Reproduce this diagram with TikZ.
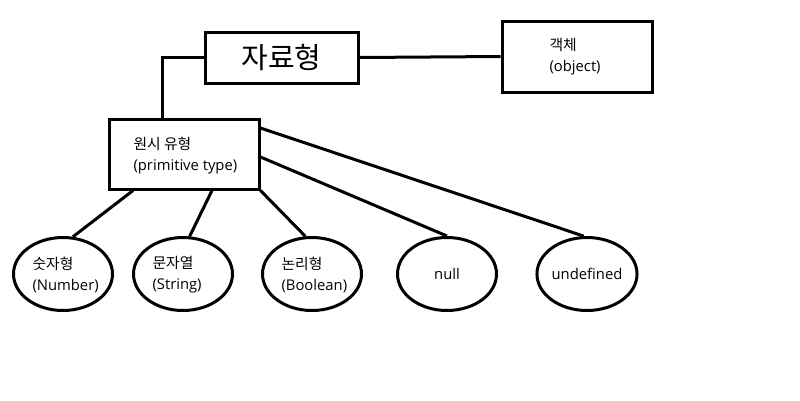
\documentclass[tikz,border=0pt]{standalone}
\usepackage{fontspec}
\setmainfont{Open Sans}
\newfontfamily\kr{Noto Sans CJK KR}
\usetikzlibrary{shapes.geometric}

\tikzset{
    box/.style={draw, line width=3pt, inner sep=0pt},
    typeoval/.style={draw, ellipse, line width=3pt, minimum width=99pt, minimum height=73pt, inner sep=0pt},
    link/.style={line width=3pt},
    small/.style={font=\fontsize{14.8}{21}\selectfont, align=left}
}

\begin{document}
\begin{tikzpicture}[x=1pt, y=-1pt]
    % Page frame
    \useasboundingbox (0,0) rectangle (800,400);

    % Top-level boxes
    \node[box, minimum width=153pt, minimum height=51pt, font=\kr\fontsize{29}{32}\selectfont] (top) at (281.5,57.5) {자료형};
    \node[box, minimum width=150pt, minimum height=71pt] (obj) at (577,56.5) {};
    \node[small, anchor=west] at (546,57) {{\kr 객체}\\(object)};
    \node[box, minimum width=150pt, minimum height=70pt] (prim) at (184,154) {};
    \node[small, anchor=west] at (130,156) {{\kr 원시 유형}\\(primitive type)};

    % Links between boxes
    \draw[link] (top.east) -- (obj.west);
    \draw[link] (top.west) -| ([xshift=-22pt]prim.north);

    % Primitive types
    \foreach \name/\x/\label in {num/63/{{\kr 숫자형}\\(Number)}, str/183/{{\kr 문자열}\\(String)}, bool/312/{{\kr 논리형}\\(Boolean)}} {
        \node[typeoval] (\name) at (\x,274) {};
        \node[small, anchor=west] at (\x-34,275) {\label};
    }
    \node[typeoval, small] (null) at (447,274) {null};
    \node[typeoval, small] (undef) at (587,274) {undefined};

    % Links to the primitive types
    \draw[link] ([xshift=-51pt]prim.south) -- (num.75);
    \draw[link] ([xshift=28pt]prim.south) -- (str.80);
    \draw[link] (prim.south east) -- (bool.100);
    \draw[link] ([yshift=-3pt]prim.east) -- (null.north);
    \draw[link] ([yshift=26pt]prim.east) -- (undef.95);
\end{tikzpicture}
\end{document}
